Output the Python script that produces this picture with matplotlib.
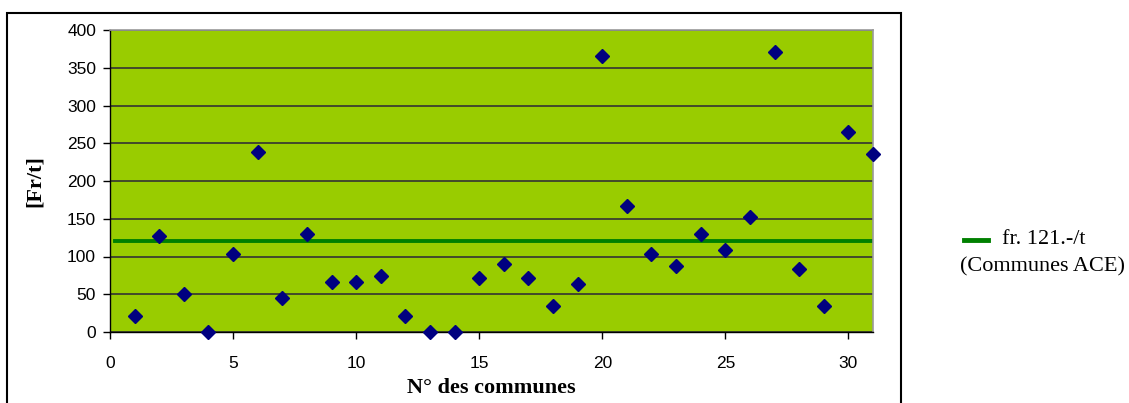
import matplotlib.pyplot as plt
from matplotlib.lines import Line2D
from matplotlib.patches import Rectangle

# cost per tonne for each commune
communes = list(range(1, 32))
cost = [21, 127, 50, 0, 103, 239, 45, 130, 66, 66, 74, 21, 0, 0, 71, 90,
        71, 34, 64, 366, 167, 103, 87, 130, 108, 152, 371, 84, 34, 265, 236]
mean_x = [0.2, 31]
mean_y = [121, 121]
legend_lines = ['fr. 121.-/t', '(Communes ACE)']

W, H = 1129, 403
fig = plt.figure(figsize=(W / 100, H / 100), dpi=100)
ax = fig.add_axes([110 / W, 1 - 332 / H, (873 - 110) / W, (332 - 30) / H])

ax.set_facecolor('#99CC00')
ax.set_xlim(0, 31)
ax.set_ylim(0, 400)
ax.set_xticks(range(0, 31, 5))
ax.set_yticks(range(0, 401, 50))
ax.grid(axis='y', color='#333333', linewidth=1.2, zorder=1)
ax.set_axisbelow(True)

ax.plot(mean_x, mean_y, color='#008000', linewidth=2.8, zorder=2)
ax.plot(communes, cost, linestyle='none', marker='D', markersize=7.5,
        color='#000080', clip_on=False, zorder=3)

for s in ['top', 'right']:
    ax.spines[s].set_color('#999999')
    ax.spines[s].set_linewidth(1.2)
for s in ['left', 'bottom']:
    ax.spines[s].set_color('black')
    ax.spines[s].set_linewidth(1.0)

ax.tick_params(direction='out', length=5, width=1, labelsize=12.5)
ax.tick_params(axis='x', pad=12)
ax.tick_params(axis='y', pad=5)
for lab in ax.get_xticklabels() + ax.get_yticklabels():
    lab.set_family('Liberation Sans')

ax.set_xlabel('N° des communes', family='Liberation Serif', fontweight='bold',
              fontsize=16, labelpad=5)
ax.set_ylabel('[Fr/t]', family='Liberation Serif', fontweight='bold',
              fontsize=16, labelpad=16)

# chart area border
fig.add_artist(Rectangle((7 / W, -0.05), (901 - 7) / W, 1.05 - 13 / H,
                         transform=fig.transFigure, fill=False,
                         edgecolor='black', linewidth=1.5, clip_on=False))

# legend
fig.add_artist(Line2D([964 / W, 988 / W], [1 - 240 / H, 1 - 240 / H],
                      transform=fig.transFigure, color='#008000', linewidth=3.5))
fig.text(1044 / W, 1 - 240 / H, legend_lines[0], ha='center', va='center',
         family='Liberation Serif', fontsize=16)
fig.text(1043 / W, 1 - 267 / H, legend_lines[1], ha='center', va='center',
         family='Liberation Serif', fontsize=16)

fig.savefig('out.png', dpi=100)
